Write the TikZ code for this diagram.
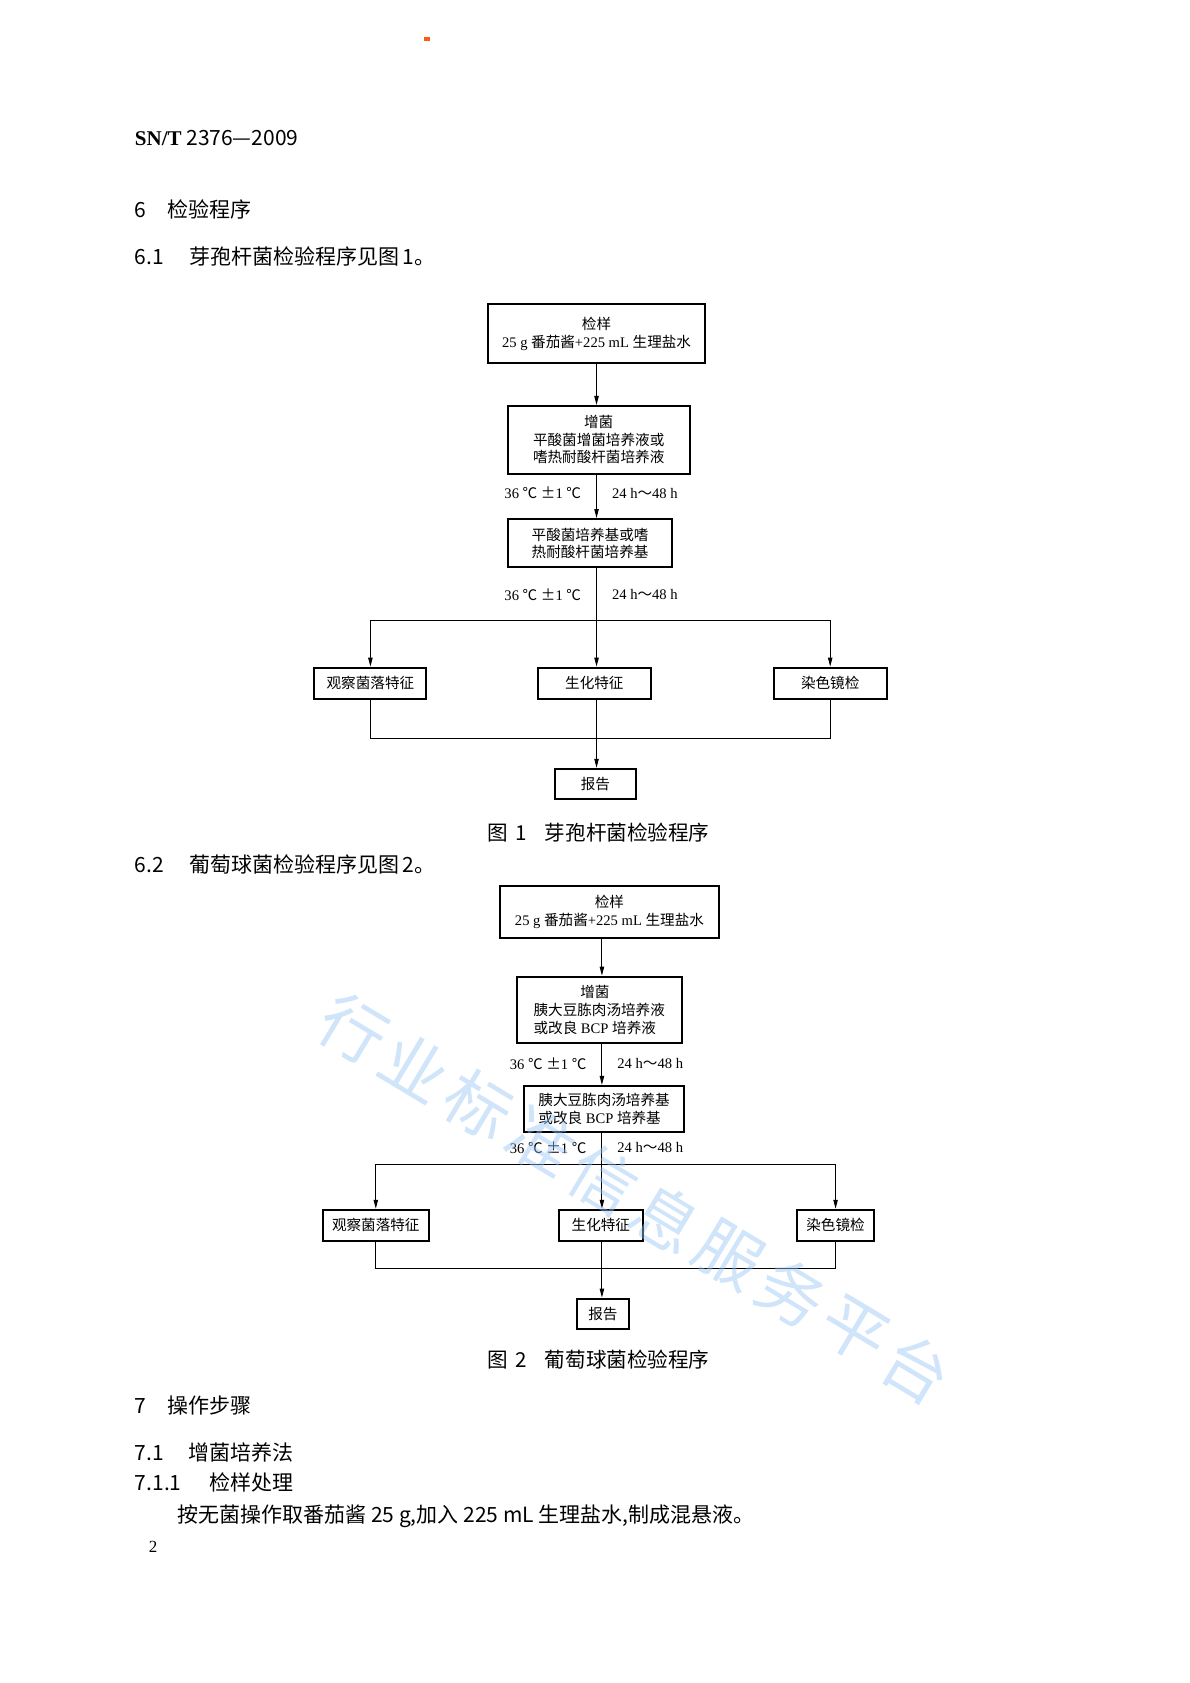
\documentclass[tikz,border=0pt]{standalone}
\usepackage{fontspec}
\setmainfont{Noto Sans CJK SC}
\newfontfamily\lat{Liberation Serif}
\newfontfamily\cjk{Noto Sans CJK SC}
\usetikzlibrary{arrows.meta}
\definecolor{markorange}{RGB}{255,90,20}
\definecolor{wmblue}{RGB}{150,195,245}
\newlength{\pu}
\setlength{\pu}{0.5387pt}

\begin{document}
\begin{tikzpicture}[x=\pu,y=-\pu,
    box/.style={draw,line width=1pt,inner sep=0pt,align=center,font=\fontsize{7.3}{8.8}\selectfont},
    lbl/.style={inner sep=0pt,font=\fontsize{7.3}{8.8}\selectfont\lat},
    arr/.style={line width=0.5pt,-{Triangle[length=4.5pt,width=2.2pt]}},
    conn/.style={line width=0.5pt},
    head/.style={inner sep=0pt,anchor=west,font=\fontsize{10.5}{12}\selectfont},
    body/.style={inner sep=0pt,anchor=west,font=\fontsize{10.5}{12}\selectfont},
    captext/.style={inner sep=0pt,anchor=west,font=\fontsize{10.3}{12}\selectfont},
    wm/.style={text=wmblue,opacity=0.45,rotate=-31,inner sep=0pt,font=\fontsize{33}{36}\selectfont}]
\useasboundingbox (0,0) rectangle (1105,1563);
\fill[markorange] (393.5,34.6) rectangle (399,38.4);

% page text
\node[body] (docno) at (125,128) {{\lat\bfseries SN/T} 2376—2009};
\node[head] (sec6) at (125,195) {6\hspace{1em}检验程序};
\node[body] (sec61) at (125,238) {6.1\hspace{1.2em}芽孢杆菌检验程序见图\,1。};
\node[body] (sec62) at (125,803) {6.2\hspace{1.2em}葡萄球菌检验程序见图\,2。};
\node[head] (sec7) at (125,1305) {7\hspace{1em}操作步骤};
\node[head] (sec71) at (125,1349) {7.1\hspace{1.15em}增菌培养法};
\node[head] (sec711) at (125,1377) {7.1.1\hspace{1.35em}检样处理};
\node[body] (para) at (164.4,1408) {按无菌操作取番茄酱 25 g,加入 225 mL 生理盐水,制成混悬液。};
\node[lbl,anchor=west,font=\fontsize{8.5}{10}\selectfont\lat] (pageno) at (138,1437) {2};

% figure 1
\node[box,minimum width=201\pu,minimum height=55\pu] (sampleA) at (554,310) {检样\\{\lat 25 g }番茄酱{\lat +225 mL }生理盐水};
\node[box,minimum width=169\pu,minimum height=63\pu] (enrichA) at (556,408.5) {增菌\\平酸菌增菌培养液或\\嗜热耐酸杆菌培养液};
\node[box,minimum width=152\pu,minimum height=45\pu] (plateA) at (548,504.5) {平酸菌培养基或嗜\\热耐酸杆菌培养基};
\node[box,minimum width=104\pu,minimum height=29\pu] (colonyA) at (344,634.5) {观察菌落特征};
\node[box,minimum width=105\pu,minimum height=29\pu] (biochemA) at (552,634.5) {生化特征};
\node[box,minimum width=105\pu,minimum height=29\pu] (stainA) at (771,634.5) {染色镜检};
\node[box,minimum width=75\pu,minimum height=28\pu] (reportA) at (553,728) {报告};
\node[lbl,anchor=east] (tempA1) at (540,458) {36 {\cjk ℃} {\cjk ±}1 {\cjk ℃}};
\node[lbl,anchor=west] (timeA1) at (568,458) {24 h{\cjk ～}48 h};
\node[lbl,anchor=east] (tempA2) at (540,552) {36 {\cjk ℃} {\cjk ±}1 {\cjk ℃}};
\node[lbl,anchor=west] (timeA2) at (568,552) {24 h{\cjk ～}48 h};
\coordinate (busA) at (554,576);
\coordinate (joinA) at (554,686);
\draw[arr] (sampleA.south) -- (sampleA.south |- enrichA.north);
\draw[arr] (enrichA.south -| sampleA) -- (plateA.north -| sampleA);
\draw[arr] (plateA.south -| sampleA) -- (biochemA.north -| sampleA);
\draw[conn] (colonyA.north |- busA) -- (stainA.north |- busA);
\draw[arr] (colonyA.north |- busA) -- (colonyA.north);
\draw[arr] (stainA.north |- busA) -- (stainA.north);
\draw[conn] (colonyA.south) |- (joinA) -| (stainA.south);
\draw[arr] (biochemA.south -| sampleA) -- (reportA.north -| sampleA);
\node[captext] (capA) at (452,773) {图\hspace{0.4em}1\hspace{0.85em}芽孢杆菌检验程序};

% figure 2
\node[box,minimum width=204\pu,minimum height=48\pu] (sampleB) at (566,847) {检样\\{\lat 25 g }番茄酱{\lat +225 mL }生理盐水};
\node[box,align=left,minimum width=153\pu,minimum height=62\pu] (enrichB) at (556.5,938) {\hspace*{3.2em}增菌\\胰大豆胨肉汤培养液\\或改良{\lat\ BCP }培养液};
\node[box,align=left,minimum width=149\pu,minimum height=43\pu] (plateB) at (561,1030) {胰大豆胨肉汤培养基\\或改良{\lat\ BCP }培养基};
\node[box,minimum width=98\pu,minimum height=29\pu] (colonyB) at (349,1138) {观察菌落特征};
\node[box,minimum width=78\pu,minimum height=29\pu] (biochemB) at (558,1138) {生化特征};
\node[box,minimum width=72\pu,minimum height=29\pu] (stainB) at (776,1138) {染色镜检};
\node[box,minimum width=49\pu,minimum height=28\pu] (reportB) at (560,1220) {报告};
\node[lbl,anchor=east] (tempB1) at (545,988) {36 {\cjk ℃} {\cjk ±}1 {\cjk ℃}};
\node[lbl,anchor=west] (timeB1) at (573,988) {24 h{\cjk ～}48 h};
\node[lbl,anchor=east] (tempB2) at (545,1066) {36 {\cjk ℃} {\cjk ±}1 {\cjk ℃}};
\node[lbl,anchor=west] (timeB2) at (573,1066) {24 h{\cjk ～}48 h};
\coordinate (axisB) at (559,847);
\coordinate (busB) at (559,1081);
\coordinate (joinB) at (559,1178);
\draw[arr] (sampleB.south -| axisB) -- (enrichB.north -| axisB);
\draw[arr] (enrichB.south -| axisB) -- (plateB.north -| axisB);
\draw[arr] (plateB.south -| axisB) -- (biochemB.north -| axisB);
\draw[conn] (colonyB.north |- busB) -- (stainB.north |- busB);
\draw[arr] (colonyB.north |- busB) -- (colonyB.north);
\draw[arr] (stainB.north |- busB) -- (stainB.north);
\draw[conn] (colonyB.south) |- (joinB) -| (stainB.south);
\draw[arr] (biochemB.south -| axisB) -- (reportB.north -| axisB);
\node[captext] (capB) at (452,1263) {图\hspace{0.4em}2\hspace{0.85em}葡萄球菌检验程序};

% watermark
\foreach \ch [count=\i from 0] in {行,业,标,准,信,息,服,务,平,台}
  \node[wm] (wm\i) at ({328+58.2*\i},{956+35*\i}) {\ch};
\end{tikzpicture}
\end{document}
